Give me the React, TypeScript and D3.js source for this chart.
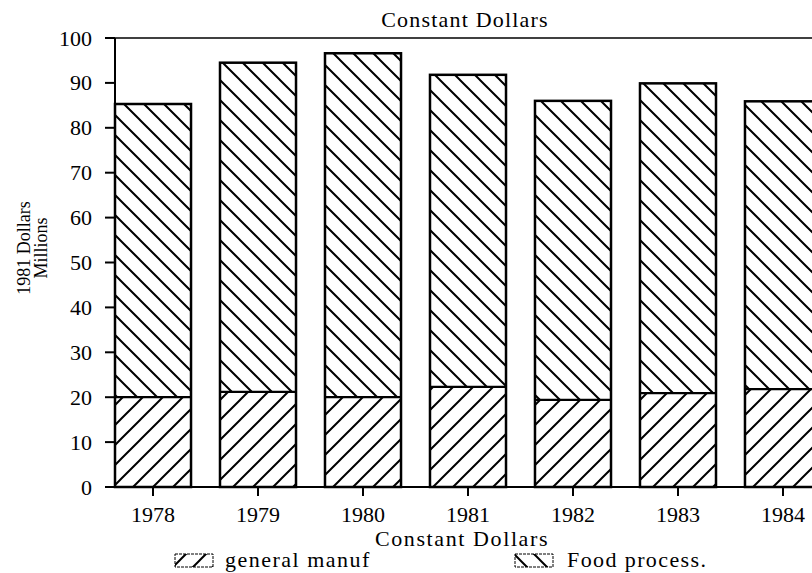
import React from 'react';
import * as d3 from 'd3';

// values (1981 dollars, millions)
const years = ['1978', '1979', '1980', '1981', '1982', '1983', '1984'];
const generalManuf = [20, 21.2, 20, 22.3, 19.4, 20.9, 21.8];
const foodProcess = [65.3, 73.3, 76.6, 69.5, 66.6, 69.0, 64.1];
const yTicks = [0, 10, 20, 30, 40, 50, 60, 70, 80, 90, 100];

const W = 812;
const H = 573;
const FONT = '"Liberation Serif", "DejaVu Serif", serif';

const App = () => {
  const x = d3.scaleBand<string>()
    .domain(years)
    .range([115, 821])
    .paddingInner(0.276)
    .paddingOuter(0);

  const y = d3.scaleLinear().domain([0, 100]).range([487, 38]);

  const rows = years.map((yr, i) => ({
    year: yr,
    gen: generalManuf[i],
    food: foodProcess[i],
  }));

  return (
    <svg width={W} height={H} style={{ position: 'absolute', left: 0, top: 0, background: '#fff' }}
      fontFamily={FONT}>
      <defs>
        {/* "/" hatch for general manuf */}
        <pattern id="hGen" patternUnits="userSpaceOnUse" width={20} height={20}>
          <path d="M-5,25 L25,-5 M-5,5 L5,-5 M15,25 L25,15" stroke="#000" strokeWidth={2} />
        </pattern>
        {/* "\" hatch for food process */}
        <pattern id="hFood" patternUnits="userSpaceOnUse" width={20} height={20}>
          <path d="M-5,-5 L25,25 M-5,15 L5,25 M15,-5 L25,5" stroke="#000" strokeWidth={2} />
        </pattern>
      </defs>

      {/* title */}
      <text x={465} y={27} textAnchor="middle" fontSize={22} letterSpacing={1.2}>Constant Dollars</text>

      {/* frame top line */}
      <line x1={115} x2={W} y1={y(100)} y2={y(100)} stroke="#000" strokeWidth={1.6} />

      {/* bars */}
      {rows.map(d => {
        const bx = x(d.year)!;
        const bw = x.bandwidth();
        const yGen = y(d.gen);
        const yTop = y(d.gen + d.food);
        return (
          <g key={d.year}>
            <rect x={bx} y={yGen} width={bw} height={y(0) - yGen} fill="url(#hGen)" />
            <rect x={bx} y={yTop} width={bw} height={yGen - yTop} fill="url(#hFood)" />
            <rect x={bx} y={yTop} width={bw} height={y(0) - yTop} fill="none" stroke="#000" strokeWidth={2.5} />
            <line x1={bx} x2={bx + bw} y1={yGen} y2={yGen} stroke="#000" strokeWidth={2.2} />
          </g>
        );
      })}

      {/* y axis */}
      <line x1={115} x2={115} y1={y(100)} y2={y(0)} stroke="#000" strokeWidth={2} />
      {yTicks.map(t => (
        <g key={t}>
          <line x1={105} x2={115} y1={y(t)} y2={y(t)} stroke="#000" strokeWidth={2} />
          <text x={92} y={y(t) + 7.5} textAnchor="end" fontSize={22}>{t}</text>
        </g>
      ))}

      {/* x axis */}
      <line x1={113} x2={W} y1={y(0)} y2={y(0)} stroke="#000" strokeWidth={2} />
      {years.map(yr => {
        const cx = x(yr)! + x.bandwidth() / 2;
        return (
          <g key={yr}>
            <line x1={cx} x2={cx} y1={y(0)} y2={y(0) + 9} stroke="#000" strokeWidth={2} />
            <text x={cx} y={522} textAnchor="middle" fontSize={22}>{yr}</text>
          </g>
        );
      })}

      {/* axis titles */}
      <text x={462} y={546} textAnchor="middle" fontSize={22} letterSpacing={1.6}>Constant Dollars</text>
      <g transform="translate(30,248) rotate(-90)">
        <text x={0} y={0} textAnchor="middle" fontSize={18}>1981 Dollars</text>
        <text x={0} y={17} textAnchor="middle" fontSize={18}>Millions</text>
      </g>

      {/* legend */}
      <rect x={175} y={554} width={38} height={13} fill="url(#hGen)" stroke="#000" strokeWidth={1} strokeDasharray="3,1" />
      <text x={225} y={567} fontSize={22} letterSpacing={1.5}>general manuf</text>
      <rect x={515} y={554} width={38} height={13} fill="url(#hFood)" stroke="#000" strokeWidth={1} strokeDasharray="3,1" />
      <text x={567} y={567} fontSize={22} letterSpacing={1.4}>Food process.</text>
    </svg>
  );
};

export default App;
